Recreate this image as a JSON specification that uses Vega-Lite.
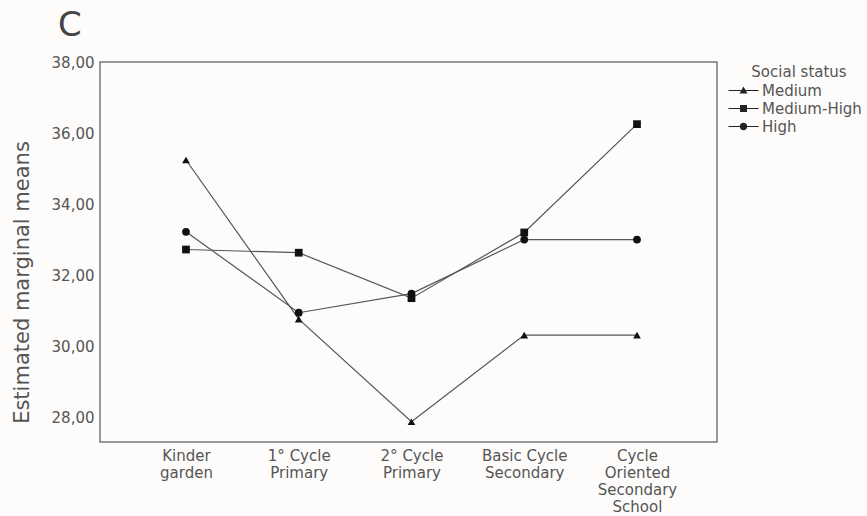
{
  "$schema": "https://vega.github.io/schema/vega-lite/v6.json",
  "autosize": "none",
  "width": 617,
  "height": 380,
  "padding": {"left": 100, "top": 62, "right": 150, "bottom": 74},
  "background": "#fdfcfa",
  "title": {"text": "C", "anchor": "start", "frame": "group", "dx": -42, "offset": 12, "fontSize": 34, "font": "DejaVu Sans", "fontWeight": "normal", "color": "#444444"},
  "config": {
    "view": {"stroke": "#777777", "strokeWidth": 1.5},
    "font": "DejaVu Sans"
  },
  "data": {
    "values": [
      {"level": "Kinder|garden", "status": "Medium", "mean": 35.24},
      {"level": "1° Cycle|Primary", "status": "Medium", "mean": 30.76},
      {"level": "2° Cycle|Primary", "status": "Medium", "mean": 27.87},
      {"level": "Basic Cycle|Secondary", "status": "Medium", "mean": 30.31},
      {"level": "Cycle|Oriented|Secondary|School", "status": "Medium", "mean": 30.31},
      {"level": "Kinder|garden", "status": "Medium-High", "mean": 32.72},
      {"level": "1° Cycle|Primary", "status": "Medium-High", "mean": 32.63},
      {"level": "2° Cycle|Primary", "status": "Medium-High", "mean": 31.35},
      {"level": "Basic Cycle|Secondary", "status": "Medium-High", "mean": 33.2},
      {"level": "Cycle|Oriented|Secondary|School", "status": "Medium-High", "mean": 36.25},
      {"level": "Kinder|garden", "status": "High", "mean": 33.22},
      {"level": "1° Cycle|Primary", "status": "High", "mean": 30.94},
      {"level": "2° Cycle|Primary", "status": "High", "mean": 31.48},
      {"level": "Basic Cycle|Secondary", "status": "High", "mean": 33.0},
      {"level": "Cycle|Oriented|Secondary|School", "status": "High", "mean": 33.0}
    ]
  },
  "encoding": {
    "x": {
      "field": "level", "type": "nominal", "sort": null,
      "scale": {"type": "point", "padding": 0.736, "align": 0.518},
      "axis": {
        "title": null, "labelAngle": 0, "domain": false, "ticks": false,
        "labelExpr": "split(datum.value, '|')",
        "labelFontSize": 15, "labelColor": "#555555", "labelPadding": 6,
        "labelLineHeight": 17, "labelBaseline": "top"
      }
    },
    "y": {
      "field": "mean", "type": "quantitative",
      "scale": {"domain": [27.3, 38], "nice": false, "zero": false},
      "axis": {
        "title": "Estimated marginal means", "titleFontSize": 21, "titleFontWeight": "normal",
        "titleColor": "#555555", "titleX": -78, "titleY": 220, "titleBaseline": "middle", "titleAlign": "center",
        "values": [28, 30, 32, 34, 36, 38],
        "labelExpr": "replace(format(datum.value, '.2f'), '.', ',')",
        "labelFontSize": 15, "labelColor": "#555555", "labelPadding": 6,
        "grid": false, "domain": false, "ticks": false
      }
    },
    "detail": {"field": "status"}
  },
  "layer": [
    {
      "mark": {"type": "line", "color": "#555555", "strokeWidth": 1.2}
    },
    {
      "mark": {"type": "point", "filled": true, "color": "#111111", "opacity": 1, "size": 60},
      "encoding": {
        "shape": {
          "field": "status", "type": "nominal",
          "scale": {"domain": ["Medium", "Medium-High", "High"], "range": ["triangle-up", "square", "circle"]},
          "legend": null
        }
      }
    },
    {
      "transform": [{"filter": "datum.mean > 1000"}],
      "mark": {"type": "point", "filled": true, "color": "#222222", "opacity": 1},
      "encoding": {
        "shape": {
          "field": "status", "type": "nominal",
          "scale": {
            "domain": ["Medium", "Medium-High", "High"],
            "range": [
              "M-3,-0.12H3V0.12H-3Z M0,-0.8L0.8,0.6H-0.8Z",
              "M-3,-0.12H3V0.12H-3Z M-0.7,-0.7H0.7V0.7H-0.7Z",
              "M-3,-0.12H3V0.12H-3Z M0.75,0A0.75,0.75 0 1,1 -0.75,0A0.75,0.75 0 1,1 0.75,0Z"
            ]
          },
          "legend": {
            "title": "Social status", "orient": "none", "legendX": 636, "legendY": 3, "padding": 0,
            "titleFontSize": 15, "titleFontWeight": "normal", "titleColor": "#555555", "titleAnchor": "middle",
            "labelFontSize": 15, "labelColor": "#555555", "symbolSize": 100,
            "symbolFillColor": "#333333", "symbolStrokeWidth": 0,
            "rowPadding": 2, "labelOffset": 11, "titlePadding": 3
          }
        }
      }
    }
  ],
  "resolve": {"scale": {"shape": "independent"}}
}
